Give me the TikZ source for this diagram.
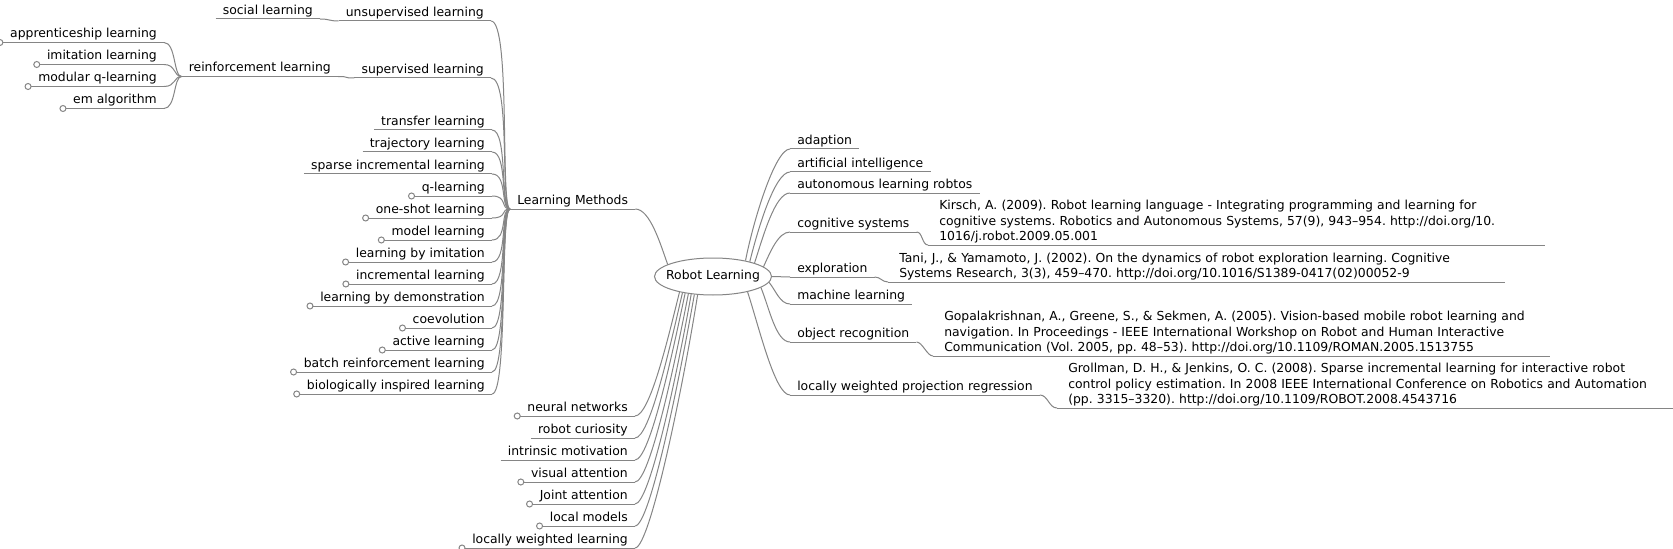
\documentclass[tikz,border=0pt]{standalone}
\usepackage{fontspec}
\setmainfont{DejaVu Sans}
\usetikzlibrary{shapes.geometric,calc}
\definecolor{linecol}{HTML}{858585}
\frenchspacing
\begin{document}
\begin{tikzpicture}[x=0.75pt,y=0.75pt,
  lbl/.style={font=\fontsize{9.3}{11.6}\selectfont\frenchspacing, text=black, inner xsep=5.25pt, inner ysep=1.1pt, text height=7pt, text depth=2.3pt},
  cite/.style={lbl, text height=, text depth=, align=left, text width=446pt, inner xsep=8.25pt, inner ysep=1.2pt},
  conn/.style={draw=linecol, line width=0.75pt},
  fold/.style={draw=linecol, line width=0.75pt, fill=white},
  rootnode/.style={ellipse, draw=linecol, line width=0.75pt, fill=white, minimum width=87.75pt, minimum height=27.75pt, inner sep=0pt, font=\fontsize{9.3}{11.6}\selectfont}
]
\useasboundingbox (0,0) rectangle (1673,-549);
\clip (0,0) rectangle (1673,-549);
\fill[white] (0,0) rectangle (1673,-549);

% root
\node[rootnode] (root) at (713,-276.5) {\makebox[0pt]{Robot Learning}};

% left upper branch
\node[lbl, anchor=south west] (lm) at (510,-209) {Learning Methods};
\node[lbl, anchor=south east] (unsup) at (491,-21) {unsupervised learning};
\node[lbl, anchor=south east] (social) at (320,-19) {social learning};
\node[lbl, anchor=south east] (sup) at (491,-78) {supervised learning};
\node[lbl, anchor=south east] (rl) at (338,-76.5) {reinforcement learning};
\node[lbl, anchor=south east] (app) at (164,-42.5) {apprenticeship learning};
\node[lbl, anchor=south east] (imit) at (164,-64.5) {imitation learning};
\node[lbl, anchor=south east] (modq) at (164,-86.5) {modular q-learning};
\node[lbl, anchor=south east] (ema) at (164,-108.5) {em algorithm};

\node[lbl, anchor=south east] (tl) at (492,-130) {transfer learning};
\node[lbl, anchor=south east] (trl) at (492,-152) {trajectory learning};
\node[lbl, anchor=south east] (sil) at (492,-174) {sparse incremental learning};
\node[lbl, anchor=south east] (ql) at (492,-196) {q-learning};
\node[lbl, anchor=south east] (osl) at (492,-218) {one-shot learning};
\node[lbl, anchor=south east] (mdl) at (492,-240) {model learning};
\node[lbl, anchor=south east] (lbi) at (492,-262) {learning by imitation};
\node[lbl, anchor=south east] (incl) at (492,-284) {incremental learning};
\node[lbl, anchor=south east] (lbd) at (492,-306) {learning by demonstration};
\node[lbl, anchor=south east] (coev) at (492,-328) {coevolution};
\node[lbl, anchor=south east] (actl) at (492,-350) {active learning};
\node[lbl, anchor=south east] (brl) at (492,-372) {batch reinforcement learning};
\node[lbl, anchor=south east] (bil) at (492,-394) {biologically inspired learning};

% left lower branch
\node[lbl, anchor=south east] (nn) at (635,-416) {neural networks};
\node[lbl, anchor=south east] (rc) at (635,-438) {robot curiosity};
\node[lbl, anchor=south east] (imot) at (635,-460) {intrinsic motivation};
\node[lbl, anchor=south east] (va) at (635,-482) {visual attention};
\node[lbl, anchor=south east] (ja) at (635,-504) {Joint attention};
\node[lbl, anchor=south east] (lmod) at (635,-526) {local models};
\node[lbl, anchor=south east] (lwl) at (635,-548) {locally weighted learning};

% right branch
\node[lbl, anchor=south west] (adapt) at (790,-149) {adaption};
\node[lbl, anchor=south west] (ai) at (790,-172) {artificial intelligence};
\node[lbl, anchor=south west] (alr) at (790,-193) {autonomous learning robtos};
\node[lbl, anchor=south west] (cog) at (790,-232) {cognitive systems};
\node[cite, anchor=south west] (kirsch) at (928,-245) {Kirsch, A. (2009). Robot learning language - Integrating programming and learning for\\cognitive systems. Robotics and Autonomous Systems, 57(9), 943–954. http://doi.org/10.\\1016/j.robot.2009.05.001};
\node[lbl, anchor=south west] (expl) at (790,-277) {exploration};
\node[cite, anchor=south west] (tani) at (888,-282) {Tani, J., \& Yamamoto, J. (2002). On the dynamics of robot exploration learning. Cognitive\\Systems Research, 3(3), 459–470. http://doi.org/10.1016/S1389-0417(02)00052-9};
\node[lbl, anchor=south west] (mlearn) at (790,-304) {machine learning};
\node[lbl, anchor=south west] (objr) at (790,-342) {object recognition};
\node[cite, anchor=south west] (gopa) at (933,-356) {Gopalakrishnan, A., Greene, S., \& Sekmen, A. (2005). Vision-based mobile robot learning and\\navigation. In Proceedings - IEEE International Workshop on Robot and Human Interactive\\Communication (Vol. 2005, pp. 48–53). http://doi.org/10.1109/ROMAN.2005.1513755};
\node[lbl, anchor=south west] (lwpr) at (790,-395) {locally weighted projection regression};
\node[cite, anchor=south west] (groll) at (1057,-408) {Grollman, D. H., \& Jenkins, O. C. (2008). Sparse incremental learning for interactive robot\\control policy estimation. In 2008 IEEE International Conference on Robotics and Automation\\(pp. 3315–3320). http://doi.org/10.1109/ROBOT.2008.4543716};

% underlines
\foreach \n in {lm,unsup,social,sup,rl,app,imit,modq,ema,tl,trl,sil,ql,osl,mdl,lbi,incl,lbd,coev,actl,brl,bil,nn,rc,imot,va,ja,lmod,lwl,adapt,ai,alr,cog,kirsch,expl,tani,mlearn,objr,gopa,lwpr,groll}
  \draw[conn] (\n.south west) -- (\n.south east);

% connectors: Learning Methods subtree
\foreach \c in {unsup,sup}
  \draw[conn] (lm.south west) .. controls +(-10,0) and +(20,0) .. (\c.south east);
\foreach \c in {tl,trl,sil,ql,osl,mdl,lbi,incl,lbd,coev,actl,brl,bil}
  \draw[conn] (lm.south west) .. controls +(-10,0) and +(16,0) .. (\c.south east);
\draw[conn] (unsup.south west) .. controls +(-10,0) and +(10,0) .. (social.south east);
\draw[conn] (sup.south west) .. controls +(-12,0) and +(12,0) .. (rl.south east);
\foreach \c in {app,imit,modq,ema}
  \draw[conn] (rl.south west) .. controls +(-8,0) and +(12,0) .. (\c.south east);

% connectors from root
\draw[conn] (root.165) .. controls +(110:20) and +(15,0) .. (lm.south east);
\draw[conn] (root.-155) .. controls +(-104:45) and +(15,0) .. (nn.south east);
\draw[conn] (root.-152) .. controls +(-103:52) and +(15,0) .. (rc.south east);
\draw[conn] (root.-149) .. controls +(-102:60) and +(15,0) .. (imot.south east);
\draw[conn] (root.-145) .. controls +(-101:68) and +(15,0) .. (va.south east);
\draw[conn] (root.-141) .. controls +(-100:76) and +(15,0) .. (ja.south east);
\draw[conn] (root.-136) .. controls +(-100:85) and +(15,0) .. (lmod.south east);
\draw[conn] (root.-130) .. controls +(-99:93) and +(15,0) .. (lwl.south east);

\draw[conn] (root.26) .. controls +(79:40) and +(-15,0) .. (adapt.south west);
\draw[conn] (root.22) .. controls +(76:35) and +(-15,0) .. (ai.south west);
\draw[conn] (root.18) .. controls +(72:28) and +(-15,0) .. (alr.south west);
\draw[conn] (root.11) .. controls +(65:15) and +(-12,0) .. (cog.south west);
\draw[conn] (root.0) .. controls +(6,0) and +(-6,0) .. (expl.south west);
\draw[conn] (root.-6) .. controls +(-50:10) and +(-10,0) .. (mlearn.south west);
\draw[conn] (root.-13) .. controls +(-68:22) and +(-14,0) .. (objr.south west);
\draw[conn] (root.-24) .. controls +(-72:38) and +(-15,0) .. (lwpr.south west);

% connectors to citations
\draw[conn] (cog.south east) .. controls +(6,0) and +(-6,0) .. (kirsch.south west);
\draw[conn] (expl.south east) .. controls +(6,0) and +(-6,0) .. (tani.south west);
\draw[conn] (objr.south east) .. controls +(6,0) and +(-6,0) .. (gopa.south west);
\draw[conn] (lwpr.south east) .. controls +(8,0) and +(-8,0) .. (groll.south west);

% fold markers
\foreach \n in {app,imit,modq,ema,ql,osl,mdl,lbi,incl,lbd,coev,actl,brl,bil,nn,va,ja,lmod,lwl}
  \draw[fold] ([xshift=-2.25pt]\n.south west) circle (2.25pt);
\end{tikzpicture}
\end{document}
